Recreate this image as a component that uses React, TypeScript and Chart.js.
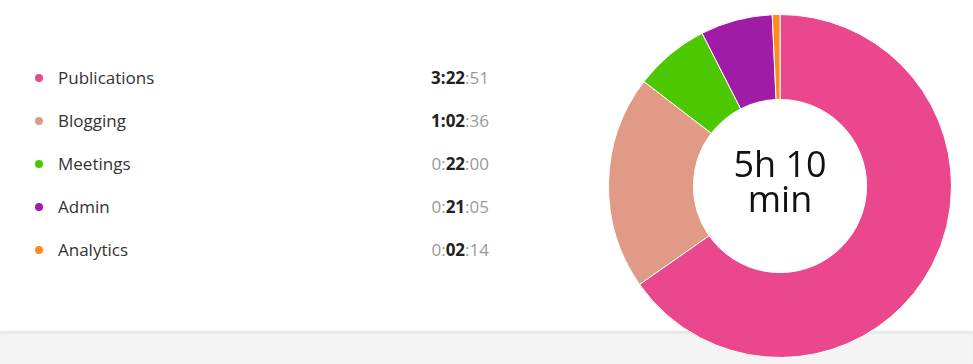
import React, { useEffect, useRef } from "react";
import { Chart, registerables } from "chart.js";

Chart.register(...registerables);

// ---- data ----
const categories: string[] = ["Publications", "Blogging", "Meetings", "Admin", "Analytics"];
const durationsSec: number[] = [12171, 3756, 1320, 1265, 134]; // 3:22:51, 1:02:36, 0:22:00, 0:21:05, 0:02:14
const sliceColors: string[] = ["#EB478C", "#E09A86", "#4CC800", "#A11CA6", "#FD8A1B"];

const pad2 = (n: number) => (n < 10 ? "0" + n : String(n));

function TimeCell({ sec }: { sec: number }) {
  const h = Math.floor(sec / 3600);
  const m = Math.floor((sec % 3600) / 60);
  const s = sec % 60;
  const bold: React.CSSProperties = { fontWeight: 700, color: "#222" };
  const grey: React.CSSProperties = { fontWeight: 400, color: "#999" };
  if (h > 0) {
    return (
      <span>
        <span style={bold}>{h + ":" + pad2(m)}</span>
        <span style={grey}>{":" + pad2(s)}</span>
      </span>
    );
  }
  return (
    <span>
      <span style={grey}>{h + ":"}</span>
      <span style={bold}>{pad2(m)}</span>
      <span style={grey}>{":" + pad2(s)}</span>
    </span>
  );
}

export default function App() {
  const canvasRef = useRef<HTMLCanvasElement | null>(null);

  useEffect(() => {
    if (!canvasRef.current) return;
    const chart = new Chart(canvasRef.current, {
      type: "doughnut",
      data: {
        labels: categories,
        datasets: [
          {
            data: durationsSec,
            backgroundColor: sliceColors,
            borderColor: "#ffffff",
            borderWidth: 1,
            hoverOffset: 0,
          },
        ],
      },
      options: {
        animation: false,
        responsive: true,
        maintainAspectRatio: false,
        cutout: "50.5%",
        rotation: 0,
        layout: { padding: 0 },
        plugins: {
          legend: { display: false },
          tooltip: { enabled: false },
        },
      },
    });
    return () => chart.destroy();
  }, []);

  const total = durationsSec.reduce((a, b) => a + b, 0);
  const totalMin = Math.floor(total / 60);
  const centerLine1 = Math.floor(totalMin / 60) + "h " + (totalMin % 60);
  const centerLine2 = "min";

  return (
    <div
      style={{
        position: "fixed",
        left: 0,
        top: 0,
        width: 973,
        height: 364,
        background: "#ffffff",
        overflow: "hidden",
        fontFamily: "'Open Sans', sans-serif",
      }}
    >
      <div
        style={{
          position: "absolute",
          left: 0,
          top: 331,
          width: 973,
          height: 33,
          background: "#f4f4f4",
          borderTop: "1px solid #e4e4e4",
          boxShadow: "inset 0 2px 2px rgba(0,0,0,0.04)",
        }}
      />
      {categories.map((name, i) => (
        <div
          key={name}
          style={{
            position: "absolute",
            left: 0,
            top: 66 + i * 43,
            width: 490,
            height: 24,
            lineHeight: "24px",
            fontSize: 17,
          }}
        >
          <div
            style={{
              position: "absolute",
              left: 35,
              top: 8,
              width: 8,
              height: 8,
              borderRadius: "50%",
              background: sliceColors[i],
            }}
          />
          <div style={{ position: "absolute", left: 58, top: 0, color: "#333", whiteSpace: "nowrap" }}>{name}</div>
          <div style={{ position: "absolute", right: 1, top: 0, whiteSpace: "nowrap" }}>
            <TimeCell sec={durationsSec[i]} />
          </div>
        </div>
      ))}
      <div style={{ position: "absolute", left: 608, top: 14, width: 344, height: 344 }}>
        <canvas ref={canvasRef} />
      </div>
      <div
        style={{
          position: "absolute",
          left: 608,
          top: 146,
          width: 344,
          textAlign: "center",
          fontSize: 36,
          lineHeight: "35px",
          color: "#111",
        }}
      >
        <div>{centerLine1}</div>
        <div>{centerLine2}</div>
      </div>
    </div>
  );
}
